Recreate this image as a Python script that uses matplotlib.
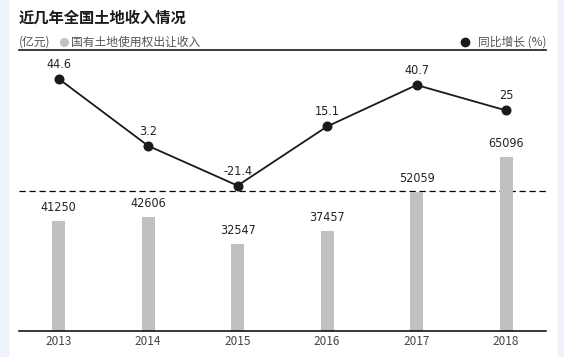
import numpy as np
import matplotlib.pyplot as plt
from matplotlib.patches import Rectangle

plt.rcParams['font.family'] = ['Noto Sans CJK SC', 'DejaVu Sans']

years = ["2013", "2014", "2015", "2016", "2017", "2018"]
income = [41250, 42606, 32547, 37457, 52059, 65096]
growth = [44.6, 3.2, -21.4, 15.1, 40.7, 25]

W, H = 564, 357
fig = plt.figure(figsize=(W / 100, H / 100), dpi=100)
fig.patch.set_facecolor("white")

numfont = dict(family="DejaVu Sans", fontstretch="condensed")


def fx(px):
    return px / W


def fy(py):
    return 1 - py / H


# light side strips
fig.patches.append(Rectangle((0, 0), fx(8), 1, transform=fig.transFigure,
                             color="#eef2fa", zorder=0))
fig.patches.append(Rectangle((fx(558), 0), 1, 1, transform=fig.transFigure,
                             color="#eef2fa", zorder=0))

# axes between header line (y=50) and baseline (y=331)
ax = fig.add_axes([fx(19), fy(331), fx(546 - 19), (331 - 50) / H])
ax.patch.set_alpha(0)
x = np.arange(len(years))
ax.bar(x, income, width=0.145, color="#c0c0c0", zorder=2)
ax.set_xlim(-0.442, 5.446)
ax.set_ylim(0, 105100)
for xi, v in zip(x, income):
    ax.annotate(str(v), (xi, v), xytext=(0, 7), textcoords="offset pixels",
                ha="center", va="bottom", fontsize=9, color="#222222",
                **numfont)
for s in ["top", "left", "right"]:
    ax.spines[s].set_visible(False)
ax.spines["bottom"].set_linewidth(1.1)
ax.set_yticks([])
ax.set_xticks(x)
ax.set_xticklabels(years, fontsize=8.5, color="#444444")
ax.tick_params(axis="x", length=0, pad=3)

# dashed divider
ax.axhline(0.4965 * 105100, color="black", lw=0.9, ls=(0, (5, 3)), zorder=1)

ax2 = ax.twinx()
ax2.set_ylim(-111.1, 62.3)
ax2.plot(x, growth, color="#1a1a1a", lw=1.3, marker="o", markersize=6.2,
         zorder=3)
for xi, v in zip(x, growth):
    ax2.annotate(f"{v:g}", (xi, v), xytext=(0, 8), textcoords="offset pixels",
                 ha="center", va="bottom", fontsize=9, color="#222222",
                 **numfont)
ax2.axis("off")

# header
fig.text(fx(19), fy(18), "近几年全国土地收入情况", fontsize=11, fontweight="bold",
         color="#1a1a1a", va="center", ha="left")
fig.text(fx(19), fy(42), "(亿元)", fontsize=8.5, color="#555555",
         va="center", ha="left")
fig.lines.append(plt.Line2D([fx(64)], [fy(42)], marker="o", markersize=5.5,
                            color="#c0c0c0", transform=fig.transFigure))
fig.text(fx(71), fy(42), "国有土地使用权出让收入", fontsize=8.5, color="#555555",
         va="center", ha="left")
fig.text(fx(546), fy(42), "同比增长 (%)", fontsize=8.5, color="#555555",
         va="center", ha="right")
fig.lines.append(plt.Line2D([fx(465)], [fy(42)], marker="o", markersize=6,
                            color="#1a1a1a", transform=fig.transFigure))
fig.lines.append(plt.Line2D([fx(19), fx(546)], [fy(50), fy(50)], lw=1.2,
                            color="#1a1a1a", transform=fig.transFigure))

fig.savefig("out.png", dpi=100)
